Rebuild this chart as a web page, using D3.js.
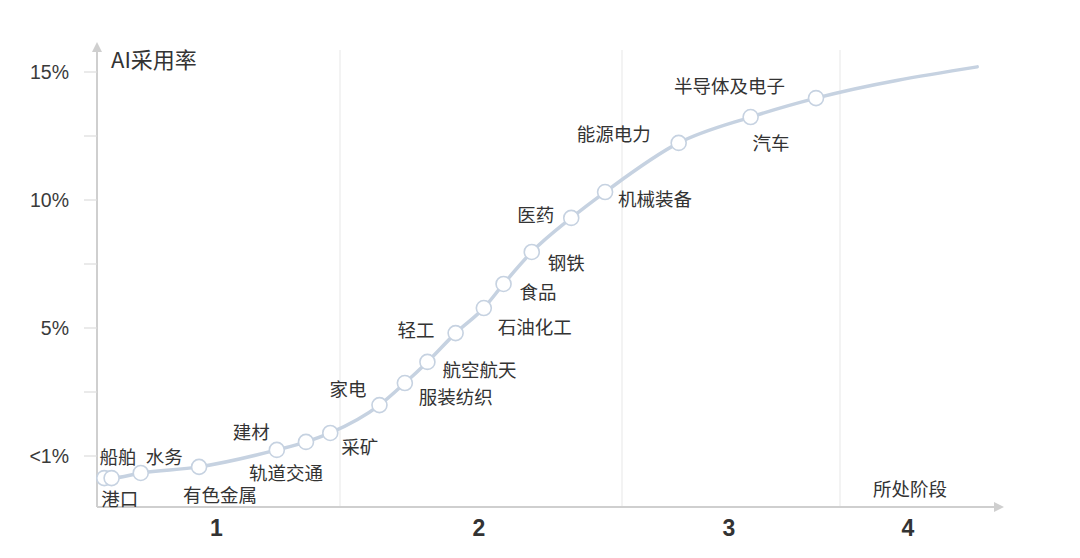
<!DOCTYPE html>
<html>
<head>
  <meta charset="utf-8">
  <script src="https://d3js.org/d3.v7.min.js"></script>
  <title>AI采用率</title>
  <style>
    body {
      margin: 0px;
      background: #fff;
      font-family: "Noto Sans CJK SC", "Liberation Sans", sans-serif;
    }
    .lbl {
      fill: #333;
      font-size: 18.5px;
    }
    .tick-label {
      fill: #3a3a3a;
      font-size: 19.5px;
      font-family: "Liberation Sans", sans-serif;
    }
  </style>
</head>
<body>
  <svg width="1080" height="558"></svg>
  <script>

    // industries, stage position (0..4) and AI adoption rate (%)
    const industries = ['港口', '船舶', '水务', '有色金属', '建材', '轨道交通', '采矿', '家电', '服装纺织', '航空航天',
      '轻工', '石油化工', '食品', '钢铁', '医药', '机械装备', '能源电力', '汽车', '半导体及电子'];
    const stagePos = [0.03, 0.06, 0.18, 0.42, 0.74, 0.86, 0.96, 1.14, 1.23, 1.31,
      1.41, 1.51, 1.58, 1.68, 1.82, 1.94, 2.26, 2.59, 2.89];
    const rates = [0.31, 0.31, 0.47, 0.66, 1.19, 1.44, 1.72, 2.59, 3.28, 3.94,
      4.84, 5.78, 6.72, 7.97, 9.30, 10.31, 12.23, 13.24, 13.98];
    // where the curve ends (no marker)
    const curveEnd = [3.98, 15.2];

    const stages = ['1', '2', '3', '4'];
    const yTicks = [1, 5, 10, 15];
    const yTickLabels = ['<1%', '5%', '10%', '15%'];
    const yMinorTicks = [3, 7.5, 12.5];

    // label placement: [dx, dy] relative to the point, text-anchor start
    const labelOffset = [
      [-3, 21], [-12, -21], [5, -16], [-16, 28], [-44, -18], [-57, 31], [11, 14], [-50, -16], [14, 14], [15, 8],
      [-58, -3], [14, 19], [16, 8], [16, 11], [-54, -3], [13, 7], [-102, -9], [2, 26], [-142, -12]
    ];

    const svg = d3.select('svg');
    const axisColor = '#cfcfcf';
    const curveColor = '#c6d2e1';

    // piecewise scales (stages have uneven widths)
    const xScale = d3.scaleLinear()
      .domain([0, 1, 2, 3, 4])
      .range([97, 340, 622, 840, 980]);
    const yScale = d3.scaleLinear()
      .domain([1, 5, 10, 15])
      .range([456, 328, 200, 72]);

    const axisY = 507;
    const axisX = 97;

    // vertical stage separators
    svg.selectAll('.sep').data([1, 2, 3])
      .enter().append('line')
      .attr('x1', d => xScale(d))
      .attr('x2', d => xScale(d))
      .attr('y1', 50)
      .attr('y2', axisY)
      .attr('stroke', '#efefef')
      .attr('stroke-width', 1.5);

    // arrow marker
    const defs = svg.append('defs');
    defs.append('marker')
      .attr('id', 'arrow')
      .attr('viewBox', '0 0 10 10')
      .attr('refX', 2)
      .attr('refY', 5)
      .attr('markerWidth', 5)
      .attr('markerHeight', 5)
      .attr('orient', 'auto')
      .append('path')
      .attr('d', 'M0,0 L10,5 L0,10 z')
      .attr('fill', axisColor);

    // y axis
    svg.append('line')
      .attr('x1', axisX).attr('x2', axisX)
      .attr('y1', axisY).attr('y2', 50)
      .attr('stroke', axisColor)
      .attr('stroke-width', 2)
      .attr('marker-end', 'url(#arrow)');

    // x axis
    svg.append('line')
      .attr('x1', axisX).attr('x2', 996)
      .attr('y1', axisY).attr('y2', axisY)
      .attr('stroke', axisColor)
      .attr('stroke-width', 2)
      .attr('marker-end', 'url(#arrow)');

    // y ticks
    svg.selectAll('.ytick').data(yTicks.concat(yMinorTicks))
      .enter().append('line')
      .attr('x1', 84).attr('x2', axisX)
      .attr('y1', d => yScale(d)).attr('y2', d => yScale(d))
      .attr('stroke', '#dcdcdc')
      .attr('stroke-width', 1.2);

    svg.selectAll('.ylab').data(yTicks)
      .enter().append('text')
      .attr('class', 'tick-label')
      .attr('x', 69)
      .attr('y', d => yScale(d))
      .attr('dy', '0.36em')
      .attr('text-anchor', 'end')
      .text((d, i) => yTickLabels[i]);

    // stage numbers
    svg.selectAll('.stage').data(stages)
      .enter().append('text')
      .attr('x', (d, i) => xScale(i + 0.5) - 2)
      .attr('y', 528)
      .attr('dy', '0.36em')
      .attr('text-anchor', 'middle')
      .style('font-family', '"Liberation Sans", sans-serif')
      .style('font-weight', 'bold')
      .style('font-size', '23px')
      .style('fill', '#333')
      .text(d => d);

    // axis titles
    svg.append('text')
      .attr('x', 111)
      .attr('y', 60)
      .attr('dy', '0.36em')
      .style('font-size', '22px')
      .style('fill', '#333')
      .text('AI采用率');

    svg.append('text')
      .attr('class', 'lbl')
      .attr('x', 873)
      .attr('y', 489)
      .attr('dy', '0.36em')
      .text('所处阶段');

    // curve
    const pts = stagePos.map((s, i) => [s, rates[i]]).concat([curveEnd]);
    const line = d3.line()
      .x(d => xScale(d[0]))
      .y(d => yScale(d[1]))
      .curve(d3.curveMonotoneX);

    svg.append('path')
      .datum(pts)
      .attr('d', line)
      .attr('fill', 'none')
      .attr('stroke', curveColor)
      .attr('stroke-width', 3.5)
      .attr('stroke-linecap', 'round');

    // markers
    svg.selectAll('.pt').data(industries)
      .enter().append('circle')
      .attr('cx', (d, i) => xScale(stagePos[i]))
      .attr('cy', (d, i) => yScale(rates[i]))
      .attr('r', 7.5)
      .attr('fill', '#fff')
      .attr('stroke', curveColor)
      .attr('stroke-width', 1.6);

    // industry labels
    svg.selectAll('.ind').data(industries)
      .enter().append('text')
      .attr('class', 'lbl')
      .attr('x', (d, i) => xScale(stagePos[i]) + labelOffset[i][0])
      .attr('y', (d, i) => yScale(rates[i]) + labelOffset[i][1])
      .attr('dy', '0.36em')
      .text(d => d);

  </script>
</body>
</html>
